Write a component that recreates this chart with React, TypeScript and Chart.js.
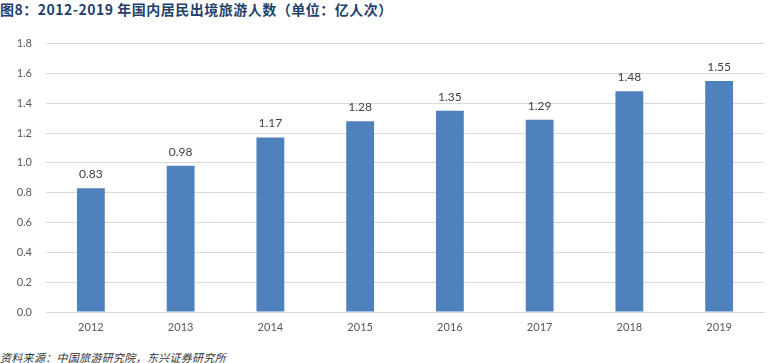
import React, { useEffect, useRef } from "react";
import { Chart, registerables } from "chart.js";

Chart.register(...registerables);

const categories = ["2012", "2013", "2014", "2015", "2016", "2017", "2018", "2019"];
const values = [0.83, 0.98, 1.17, 1.28, 1.35, 1.29, 1.48, 1.55];
const titleText = "图8：2012-2019 年国内居民出境旅游人数（单位：亿人次）";
const sourceText = "资料来源：中国旅游研究院，东兴证券研究所";

const labelPlugin = {
  id: "barLabels",
  afterDatasetsDraw(chart: any) {
    const ctx = chart.ctx;
    const meta = chart.getDatasetMeta(0);
    ctx.save();
    ctx.font = "12px Lato, 'Open Sans', sans-serif";
    ctx.fillStyle = "#404040";
    ctx.textAlign = "center";
    ctx.textBaseline = "bottom";
    meta.data.forEach((bar: any, i: number) => {
      ctx.fillText(values[i].toFixed(2), bar.x, bar.y - 8);
    });
    ctx.restore();
  },
};

export default function App() {
  const ref = useRef<HTMLCanvasElement>(null);
  useEffect(() => {
    document.body.style.margin = "0";
    const chart = new Chart(ref.current!, {
      type: "bar",
      data: {
        labels: categories,
        datasets: [
          {
            data: values,
            backgroundColor: "#4F81BD",
            barPercentage: 0.31,
            categoryPercentage: 1,
          },
        ],
      },
      options: {
        animation: false,
        responsive: false,
        maintainAspectRatio: false,
        layout: { padding: { top: 6, right: 11, left: 0, bottom: 0 } },
        plugins: { legend: { display: false }, tooltip: { enabled: false }, title: { display: false } },
        scales: {
          x: {
            grid: { display: false, drawTicks: false },
            border: { display: true, color: "#D9D9D9" },
            ticks: { color: "#595959", font: { size: 11, family: "Lato, 'Open Sans', sans-serif" }, padding: 9 },
            afterFit: (s: any) => { s.height = 28; },
          },
          y: {
            min: 0,
            max: 1.8,
            ticks: {
              stepSize: 0.2,
              color: "#595959",
              font: { size: 11, family: "Lato, 'Open Sans', sans-serif" },
              padding: 14,
              callback: (v: any) => Number(v).toFixed(1),
            },
            grid: { color: "#D9D9D9", drawTicks: false },
            border: { display: false },
            afterFit: (s: any) => { s.width = 46; },
          },
        },
      },
      plugins: [labelPlugin],
    });
    return () => chart.destroy();
  }, []);
  return (
    <div style={{ position: "relative", width: 775, height: 363, background: "#fff", overflow: "hidden" }}>
      <div
        style={{
          position: "absolute",
          left: 0,
          top: 0,
          fontFamily: "'Noto Sans CJK SC', sans-serif",
          fontWeight: 700,
          fontSize: 14,
          lineHeight: "18px",
          letterSpacing: "0.5px",
          color: "#1F3F6E",
          whiteSpace: "nowrap",
        }}
      >
        {titleText}
      </div>
      <canvas ref={ref} width={775} height={317} style={{ position: "absolute", left: 0, top: 23 }} />
      <div
        style={{
          position: "absolute",
          left: 0,
          top: 350,
          fontFamily: "'Noto Sans CJK SC', sans-serif",
          fontStyle: "italic",
          fontSize: 11,
          lineHeight: "14px",
          letterSpacing: "0.3px",
          color: "#333",
          whiteSpace: "nowrap",
        }}
      >
        {sourceText}
      </div>
    </div>
  );
}
